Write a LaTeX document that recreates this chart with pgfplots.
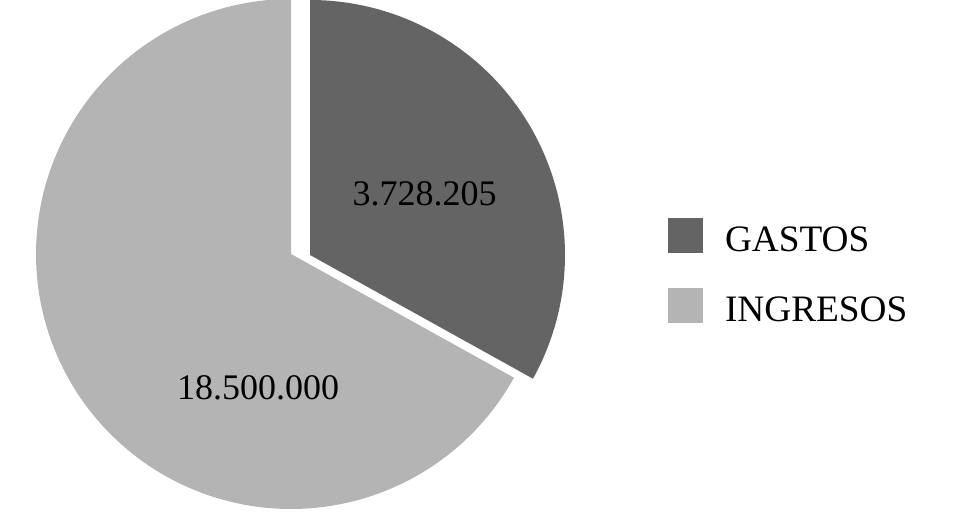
\documentclass[border=0pt]{standalone}
\usepackage{fontspec}
\setmainfont{Liberation Serif}
\usepackage{pgfplots}
\usepackage{pgfplotstable}
\pgfplotsset{compat=1.18}

\definecolor{gdark}{HTML}{646464}
\definecolor{glight}{HTML}{B4B4B4}

% shares of the pie as drawn (percent)
\pgfplotstableread{
label share
GASTOS 33.06
INGRESOS 66.94
}\piedata

\begin{document}
\begin{tikzpicture}
  \pgfplotstablegetelem{0}{share}\of\piedata
  \pgfmathsetmacro\split{90-3.6*\pgfplotsretval}
  \pgfmathsetmacro\splitb{360+\split}
  \begin{axis}[
      scale only axis,
      width=977pt, height=515pt,
      xmin=0, xmax=977, ymin=0, ymax=515,
      hide axis,
      font=\fontsize{36}{43}\selectfont,
      legend style={draw=none, fill=none, at={(axis cs:668,297)},
          anchor=north west, inner sep=0pt, outer sep=0pt, row sep=35pt,
          font=\fontsize{37.3}{44}\selectfont,
          nodes={inner sep=0pt}},
      legend cell align=left,
      legend image code/.code={\fill[#1, draw=none] (0pt,-13pt) rectangle (35pt,22pt);},
      every axis legend/.append style={/tikz/every odd column/.append style={column sep=22pt}},
    ]
    \addplot[fill=gdark, draw=none, domain=\split:90, samples=120, variable=\t]
      ({310+255*cos(\t)}, {260+255*sin(\t)}) -- (axis cs:310,260) -- cycle;
    \addlegendentry{GASTOS}
    \addplot[fill=glight, draw=none, domain=90:\splitb, samples=200, variable=\t]
      ({291+255*cos(\t)}, {261+255*sin(\t)}) -- (axis cs:291,261) -- cycle;
    \addlegendentry{INGRESOS}

    \node[inner sep=0pt] at (axis cs:424.5,321.5) {3.728.205};
    \node[inner sep=0pt] at (axis cs:258,127.5) {18.500.000};
  \end{axis}
  \pgfresetboundingbox
  \path (current axis.south west) rectangle (current axis.north east);
\end{tikzpicture}
\end{document}
